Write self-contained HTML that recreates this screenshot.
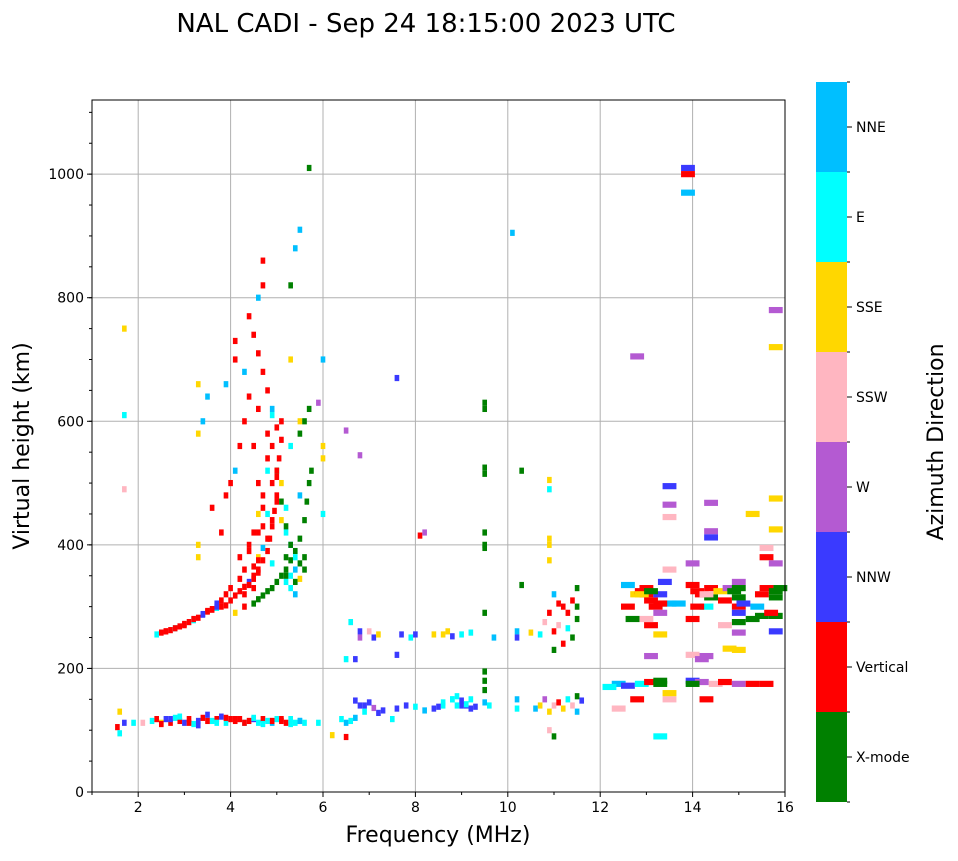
<!DOCTYPE html>
<html><head><meta charset="utf-8"><style>
body{margin:0;background:#fff;font-family:"DejaVu Sans","Liberation Sans",sans-serif;}
svg text{font-family:"DejaVu Sans","Liberation Sans",sans-serif;}
</style></head><body>
<svg id="chart" width="958" height="857" xmlns="http://www.w3.org/2000/svg">
<text x="426" y="32" font-size="26" text-anchor="middle">NAL CADI - Sep 24 18:15:00 2023 UTC</text>
<g id="grid"></g>
<g id="marks"></g>
<rect x="92" y="100" width="693" height="692" fill="none" stroke="#000" stroke-width="1"/>
<g id="axes"></g>
<text x="438" y="842" font-size="22" text-anchor="middle">Frequency (MHz)</text>
<text transform="translate(29,446) rotate(-90)" font-size="22" text-anchor="middle">Virtual height (km)</text>
<g id="cbar"></g>
<text transform="translate(943,442) rotate(-90)" font-size="22" text-anchor="middle">Azimuth Direction</text>
</svg>
<script>
const dirNames=["X-mode","Vertical","NNW","W","SSW","SSE","E","NNE"];
const dirColors=["#008000","#ff0000","#3a3aff","#b45ad2","#ffb6c1","#ffd700","#00ffff","#00bfff"];
const xTicks=[2,4,6,8,10,12,14,16];
const yTicks=[0,200,400,600,800,1000];
const freq=[1.55,1.6,1.6,1.7,1.9,2.1,2.3,2.4,2.5,2.6,2.7,2.8,2.9,3.0,3.1,3.2,3.3,3.4,3.5,3.6,3.7,3.8,3.9,4.0,4.1,4.2,4.3,4.4,4.5,4.6,4.7,4.8,4.9,5.0,5.1,5.2,5.3,5.4,5.5,5.6,5.9,6.2,6.4,6.5,6.6,6.7,6.5,6.8,6.9,7.0,7.2,7.5,7.6,7.8,8.0,8.2,8.4,8.6,8.8,8.9,9.0,9.1,9.2,9.3,9.5,9.6,10.2,10.2,10.6,10.7,10.8,10.9,11.0,11.1,11.2,11.3,11.4,11.5,11.6,11.5,12.4,12.6,12.8,12.9,13.1,13.3,13.5,13.1,13.3,14.0,14.2,14.3,14.5,14.7,15.0,15.3,15.6,14.3,12.4,
2.4,2.5,2.6,2.7,2.8,2.9,3.0,3.1,3.2,3.3,3.4,3.5,3.6,3.7,3.8,3.9,4.0,4.1,4.2,4.3,4.4,4.5,4.6,4.7,4.8,4.85,4.9,4.95,5.0,5.0,5.05,5.1,5.1,4.9,4.8,4.7,4.6,4.5,4.4,4.6,4.7,4.7,3.8,3.6,3.9,4.0,4.1,4.2,4.3,4.4,4.1,4.1,4.3,4.2,4.4,4.6,4.7,4.6,4.8,4.9,5.0,4.5,4.3,4.1,3.7,4.6,4.9,5.1,5.2,5.3,5.2,5.4,5.5,5.3,5.5,5.3,5.5,5.4,5.3,5.7,3.4,3.3,3.3,3.5,3.9,1.7,1.7,1.7,3.3,3.3,
4.5,4.6,4.7,4.8,4.9,5.0,5.1,5.2,5.3,5.4,5.5,5.6,5.65,5.7,5.75,5.7,5.6,5.5,5.2,5.3,5.4,6.0,5.9,6.0,6.0,6.0,
6.8,6.8,7.0,7.1,7.2,6.6,6.5,6.7,6.8,6.5,7.6,7.6,7.7,7.9,8.0,8.1,8.2,8.4,8.6,8.7,8.8,9.0,9.2,9.5,9.5,9.5,9.5,9.5,9.5,9.5,9.5,9.5,9.5,9.5,9.7,10.1,10.3,10.3,10.2,10.2,10.5,10.7,10.9,10.9,10.9,10.9,10.9,10.9,11.0,11.1,11.2,11.3,11.4,11.5,11.5,11.4,11.2,11.0,11.1,11.3,11.5,11.0,10.9,11.0,10.8,
12.2,12.6,12.6,12.8,12.9,13.0,13.1,13.2,13.0,13.3,13.4,13.5,13.3,13.1,13.0,12.7,13.3,13.5,13.5,13.5,13.5,13.9,13.9,13.9,12.8,13.5,13.3,14.0,14.0,14.1,14.2,14.4,14.4,14.3,14.4,14.4,14.4,14.6,14.7,14.8,15.0,15.0,15.0,15.0,15.0,15.0,15.3,15.5,15.5,15.6,15.8,15.8,15.8,15.4,15.0,14.8,15.0,14.7,15.3,15.6,15.6,15.8,15.8,15.8,15.8,15.8,15.8,14.0,14.0,14.2,14.0,14.1,
4.3,4.4,4.5,4.6,4.5,4.6,4.7,4.8,4.9,5.0,4.7,4.8,4.9,4.6,4.7,4.8,4.5,4.4,4.3,4.2,4.5,4.6,4.8,4.9,5.0,5.1,5.2,5.3,5.4,5.4,5.5,5.6,5.2,5.1,5.0,5.2,5.3,5.5,5.6,4.0,3.9,3.8,3.7,3.6,3.5,3.4,3.2,3.0,2.8,2.6,
2.5,2.7,2.9,3.1,3.3,3.5,3.7,3.9,4.1,4.3,4.5,4.7,4.9,5.1,5.3,5.5,8.6,8.8,9.0,9.2,8.5,8.9,9.1,6.7,6.9,7.1,7.3,12.9,13.3,13.1,14.9,15.1,15.7,15.9,13.7,14.3];
const height=[105,130,95,112,112,112,115,118,112,118,112,120,115,112,118,110,115,120,125,115,118,122,112,118,115,118,112,115,118,112,118,115,112,118,115,112,118,112,115,112,112,92,118,112,115,120,89,140,130,145,128,118,135,140,138,132,135,140,150,155,148,140,150,138,145,140,135,150,135,140,150,130,140,145,135,150,140,155,148,130,175,172,150,175,178,180,150,220,90,180,178,220,175,178,175,175,175,150,135,
255,258,260,262,265,268,272,275,278,282,288,292,295,298,300,302,310,318,325,332,340,350,360,375,390,410,430,455,480,510,540,570,600,620,650,680,710,740,770,800,820,860,420,460,480,500,520,560,600,640,700,730,680,380,390,420,460,500,540,560,590,330,300,290,305,380,370,440,420,400,380,320,480,560,600,700,910,880,820,1010,600,580,660,640,660,610,750,490,400,380,
305,312,318,325,330,340,350,360,375,390,410,440,470,500,520,620,600,580,340,350,360,700,630,560,540,450,
260,250,260,250,255,275,215,215,545,585,670,222,255,250,255,415,420,255,255,260,252,255,258,630,620,525,515,420,400,395,290,195,180,165,250,905,520,335,260,250,258,255,505,490,410,400,375,290,320,305,300,290,310,330,280,250,240,260,270,265,300,230,100,90,275,
170,335,300,320,325,320,310,300,330,320,340,305,255,270,280,280,290,360,495,465,445,1010,1000,970,705,160,175,370,335,325,320,330,315,300,422,412,468,325,310,330,340,330,315,300,290,275,280,285,320,330,325,315,285,300,258,232,230,270,450,395,380,475,425,370,780,720,260,280,222,215,175,300,
320,335,345,355,365,375,395,410,440,470,430,450,500,450,480,520,420,400,360,345,560,620,580,610,520,470,430,400,380,340,370,380,460,500,520,350,330,345,360,330,320,310,300,296,293,287,280,270,265,260,
110,118,122,112,108,115,112,120,118,112,120,110,115,118,110,115,145,150,140,135,138,140,142,148,140,136,132,320,305,325,325,305,290,330,305,320];
const dir=[1,5,6,2,6,4,6,1,5,2,1,6,1,2,1,6,2,1,2,6,1,2,6,1,1,1,6,1,2,6,1,6,7,6,1,1,6,6,7,6,6,5,6,7,6,7,1,2,6,2,2,6,2,2,6,7,2,6,6,6,2,2,6,2,7,6,6,7,7,5,3,5,4,1,5,6,4,0,2,7,7,2,1,6,1,0,4,3,6,2,3,3,4,1,3,1,1,1,4,
6,1,1,1,6,1,1,1,6,1,2,1,1,6,1,1,1,1,1,1,2,1,1,1,1,1,1,1,1,1,1,1,1,7,1,1,1,1,1,7,1,1,1,1,1,1,7,1,1,1,1,1,7,1,1,1,1,1,1,1,1,1,1,5,2,5,6,5,6,7,0,7,7,6,5,5,7,7,0,0,7,5,5,7,7,6,5,4,5,5,
0,0,0,0,0,0,0,0,0,0,0,0,0,0,0,0,0,0,6,6,7,7,3,5,5,6,
2,3,4,2,5,6,6,2,3,3,2,2,2,6,2,1,3,5,5,5,2,6,6,0,0,0,0,0,0,0,0,0,0,0,7,7,0,0,7,2,5,6,5,6,5,5,5,1,7,1,1,1,1,0,0,0,1,1,4,6,0,0,4,0,4,
6,7,1,5,1,1,1,1,1,2,2,7,5,1,4,0,3,4,2,3,4,2,1,7,3,5,0,3,1,1,1,1,0,6,3,2,3,5,1,3,3,0,0,1,2,0,0,0,1,1,0,0,0,7,3,5,5,4,5,4,1,5,5,3,3,5,2,1,4,3,0,1,
1,1,1,1,1,1,7,1,1,1,1,6,1,5,1,6,1,1,1,1,1,1,1,6,0,0,0,0,6,0,0,0,6,5,1,0,6,5,0,1,1,1,2,1,1,2,1,1,1,1,
1,2,6,1,2,1,6,1,1,1,6,6,1,1,6,7,6,6,2,2,2,6,6,2,2,3,2,5,1,0,0,2,1,0,7,4];
const X0=92,X1=785,Y0=792,Y1=100,FMIN=1,FMAX=16,HMAX=1120;
const xs=f=>X0+(f-FMIN)/(FMAX-FMIN)*(X1-X0);
const ys=h=>Y0-h/HMAX*(Y0-Y1);
const NS="http://www.w3.org/2000/svg";
function mk(tag,attrs,parent){const e=document.createElementNS(NS,tag);for(const k in attrs)e.setAttribute(k,attrs[k]);parent.appendChild(e);return e;}
const grid=document.getElementById('grid'),axes=document.getElementById('axes'),marks=document.getElementById('marks'),cbar=document.getElementById('cbar');
xTicks.forEach(t=>{const x=xs(t);
 const g=mk('line',{x1:x,x2:x,y1:Y1,y2:Y0,stroke:'#b0b0b0','stroke-width':1},grid);
 
 mk('line',{x1:x,x2:x,y1:Y0,y2:Y0+5,stroke:'#000'},axes);
 const tx=mk('text',{x:x,y:Y0+20,'font-size':14,'text-anchor':'middle'},axes);tx.textContent=t;
 });
for(let t=1;t<=16;t+=2){mk('line',{x1:xs(t),x2:xs(t),y1:Y0,y2:Y0+3,stroke:'#000'},axes);}
yTicks.forEach(t=>{const y=ys(t);
 const g=mk('line',{x1:X0,x2:X1,y1:y,y2:y,stroke:'#b0b0b0','stroke-width':1},grid);
 
 mk('line',{x1:X0-5,x2:X0,y1:y,y2:y,stroke:'#000'},axes);
 const tx=mk('text',{x:X0-8,y:y+5,'font-size':14,'text-anchor':'end'},axes);tx.textContent=t;
 });
for(let t=50;t<HMAX;t+=50){mk('line',{x1:X0-3,x2:X0,y1:ys(t),y2:ys(t),stroke:'#000'},axes);}
for(let i=0;i<freq.length;i++){
 const w=freq[i]>=12?0.3:0.1;
 const r=mk('rect',{x:xs(freq[i]-w/2),y:ys(height[i]+5),width:(X1-X0)*w/(FMAX-FMIN),height:ys(0)-ys(10),fill:dirColors[dir[i]]},marks);
 
 }
const CB0=802,CBH=90;
dirNames.forEach((n,i)=>{const y=CB0-(i+1)*CBH;
 const r=mk('rect',{x:816,y:y,width:31,height:CBH,fill:dirColors[i]},cbar);
 
 mk('line',{x1:847,x2:852,y1:y+CBH/2,y2:y+CBH/2,stroke:'#000'},cbar);
 const tx=mk('text',{x:856,y:y+CBH/2+5,'font-size':14},cbar);tx.textContent=n;
 });
for(let i=0;i<=8;i++){mk('line',{x1:847,x2:850,y1:CB0-i*CBH,y2:CB0-i*CBH,stroke:'#000'},cbar);}
</script>
</body></html>
